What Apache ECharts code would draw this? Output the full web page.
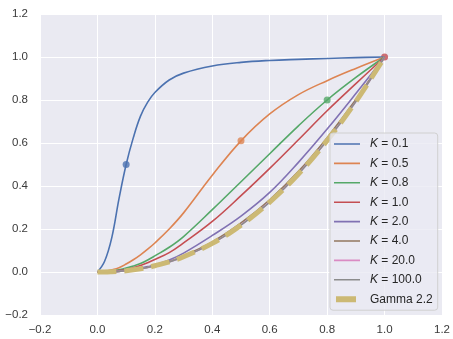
<!DOCTYPE html>
<html>
<head>
<meta charset="utf-8">
<script src="https://cdn.jsdelivr.net/npm/echarts@6/dist/echarts.min.js"></script>
<style>
  html, body { margin: 0; padding: 0; background: #fff; }
  #chart { width: 453px; height: 339px; }
</style>
</head>
<body>
<div id="chart"></div>
<script>
// sample positions along x (denser near 0 where K=0.1 rises fast)
const xs = [0, 0.025, 0.05, 0.075, 0.1, 0.125, 0.15, 0.175, 0.2, 0.25, 0.3, 0.4, 0.5, 0.6, 0.7, 0.8, 0.9, 1.0];

const k01 = [0, 0.05, 0.16, 0.34, 0.5, 0.625, 0.725, 0.79, 0.835, 0.893, 0.925, 0.958, 0.975, 0.984, 0.989, 0.993, 0.997, 1.0];
const k05 = [0, 0.003, 0.01, 0.02, 0.037, 0.057, 0.08, 0.106, 0.135, 0.2, 0.275, 0.45, 0.61, 0.735, 0.825, 0.89, 0.947, 1.0];
const k08 = [0, 0.001, 0.004, 0.01, 0.018, 0.028, 0.04, 0.056, 0.075, 0.115, 0.165, 0.29, 0.42, 0.55, 0.68, 0.8, 0.905, 1.0];
const k10 = [0, 0.001, 0.003, 0.007, 0.012, 0.02, 0.03, 0.043, 0.058, 0.09, 0.135, 0.235, 0.355, 0.482, 0.615, 0.75, 0.876, 1.0];
const k20 = [0, 0, 0.002, 0.004, 0.008, 0.012, 0.018, 0.025, 0.033, 0.056, 0.088, 0.17, 0.26, 0.37, 0.51, 0.665, 0.83, 1.0];
const k40 = [0, 0, 0.001, 0.003, 0.006, 0.01, 0.015, 0.022, 0.03, 0.049, 0.075, 0.14, 0.228, 0.336, 0.468, 0.625, 0.802, 1.0];
const k200 = [0, 0, 0.001, 0.003, 0.006, 0.01, 0.015, 0.021, 0.029, 0.047, 0.071, 0.133, 0.219, 0.326, 0.457, 0.612, 0.793, 1.0];
const k1000 = [0, 0, 0.001, 0.003, 0.006, 0.01, 0.015, 0.021, 0.029, 0.047, 0.071, 0.133, 0.218, 0.325, 0.456, 0.612, 0.793, 1.0];
const gamma22 = [0, 0, 0.001, 0.003, 0.006, 0.01, 0.015, 0.021, 0.029, 0.047, 0.071, 0.133, 0.218, 0.325, 0.456, 0.612, 0.793, 1.0];

const names = ['K=0.1', 'K=0.5', 'K=0.8', 'K=1.0', 'K=2.0', 'K=4.0', 'K=20.0', 'K=100.0'];
const curves = [k01, k05, k08, k10, k20, k40, k200, k1000];
const colors = ['#4c72b0', '#dd8452', '#55a868', '#c44e52', '#8172b3', '#937860', '#da8bc3', '#8c8c8c'];

// marked point of each curve (only those inside the plotted range)
const markX = [0.1, 0.5, 0.8, 1.0];
const markY = [0.5, 0.61, 0.8, 1.0];

const tickFmt = v => {
  const s = v.toFixed(1);
  return s.charAt(0) === '-' ? '\u2212' + s.slice(1) : s;
};

const pairs = ys => xs.map((x, i) => [x, ys[i]]);

// legend swatches: tiny slivers at top/bottom keep the 26x12 box, the middle bar is the visible part
const lineIcon = 'path://M0 0h26v0.01h-26z M0 5.2h26v1.6h-26z M0 11.99h26v0.01h-26z';
const gammaIcon = 'path://M0 0h26v0.01h-26z M2 3h20v6h-20z M0 11.99h26v0.01h-26z';

const series = curves.map((ys, i) => ({
  name: names[i],
  type: 'line',
  data: pairs(ys),
  symbol: 'none',
  smooth: 0.4,
  color: colors[i],
  lineStyle: { width: 1.6, color: colors[i] }
}));

markX.forEach((x, i) => {
  series.push({
    name: 'mark' + i,
    type: 'scatter',
    data: [[x, markY[i]]],
    symbolSize: 7,
    itemStyle: { color: colors[i] }
  });
});

series.push({
  name: 'Gamma 2.2',
  type: 'line',
  data: pairs(gamma22),
  symbol: 'none',
  smooth: 0.4,
  color: '#ccb974',
  lineStyle: { width: 5, color: '#ccb974', type: [19, 8], cap: 'butt' }
});

const chart = echarts.init(document.getElementById('chart'));
chart.setOption({
  animation: false,
  backgroundColor: '#ffffff',
  textStyle: { fontFamily: 'Liberation Sans' },
  grid: {
    left: 40, right: 8, top: 14, bottom: 24,
    show: true, backgroundColor: '#eaeaf2', borderWidth: 0
  },
  xAxis: {
    type: 'value', min: -0.2, max: 1.2, interval: 0.2,
    axisLine: { show: false }, axisTick: { show: false },
    axisLabel: { formatter: tickFmt, color: '#3a3a3a', fontSize: 11.5, margin: 9 },
    splitLine: { lineStyle: { color: '#ffffff', width: 1 } }
  },
  yAxis: {
    type: 'value', min: -0.2, max: 1.2, interval: 0.2,
    axisLine: { show: false }, axisTick: { show: false },
    axisLabel: { formatter: tickFmt, color: '#3a3a3a', fontSize: 11.5, margin: 12 },
    splitLine: { lineStyle: { color: '#ffffff', width: 1 } }
  },
  legend: {
    data: names.map(n => ({ name: n, icon: lineIcon }))
      .concat([{ name: 'Gamma 2.2', icon: gammaIcon }]),
    orient: 'vertical',
    left: 330, top: 133,
    itemWidth: 26, itemHeight: 12, itemGap: 7.4,
    padding: [5, 5, 5, 4],
    backgroundColor: 'rgba(234,234,242,0.8)',
    borderColor: '#d0d0d0', borderWidth: 1, borderRadius: 3,
    formatter: n => n.charAt(0) === 'K' ? '{k|K} = ' + n.slice(2) : n,
    textStyle: {
      color: '#262626', fontSize: 12, padding: [0, 0, 0, 5],
      rich: { k: { fontStyle: 'italic', fontSize: 12, color: '#262626' } }
    }
  },
  series: series
});
</script>
</body>
</html>
